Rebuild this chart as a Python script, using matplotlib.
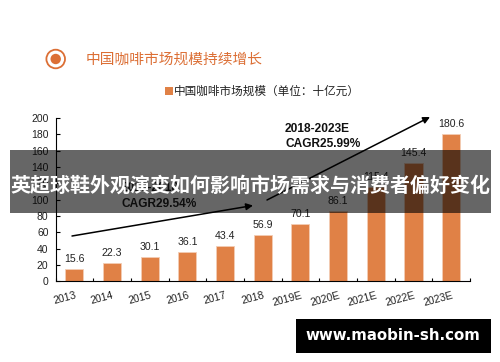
"""China coffee market size bar chart with CAGR arrows and banner overlays."""

import matplotlib
matplotlib.use('Agg')
import matplotlib.pyplot as plt
import matplotlib.patches as patches
from matplotlib.transforms import ScaledTranslation

plt.rcParams['font.family'] = ['Liberation Sans', 'Noto Sans CJK SC', 'DejaVu Sans']

years = ['2013', '2014', '2015', '2016', '2017', '2018',
         '2019E', '2020E', '2021E', '2022E', '2023E']
market_size = [15.6, 22.3, 30.1, 36.1, 43.4, 56.9, 70.1, 86.1, 115.4, 145.4, 180.6]
y_ticks = [0, 20, 40, 60, 80, 100, 120, 140, 160, 180, 200]

ORANGE = '#E08146'
TITLE_ORANGE = '#DC6F35'
W, H = 500, 362

fig = plt.figure(figsize=(W / 100, H / 100), dpi=100, facecolor='white')

# full figure overlay in pixel coords, y pointing down
bg = fig.add_axes([0, 0, 1, 1])
bg.set_xlim(0, W)
bg.set_ylim(H, 0)
bg.axis('off')

# chart axes, placed by pixels
left, right, top, bottom = 55.5, 470, 118, 281.3
ax = fig.add_axes([left / W, 1 - bottom / H, (right - left) / W, (bottom - top) / H])
ax.patch.set_alpha(0)

x = range(len(years))
ax.bar(x, market_size, width=0.48, color=ORANGE, edgecolor='#F3CDB4', linewidth=0.6)
for i, v in zip(x, market_size):
    ax.annotate(f'{v}', (i, v), xytext=(0, 3.5), textcoords='offset points',
                ha='center', va='bottom', fontsize=7.6, color='#222222')

ax.set_xlim(-0.5, len(years) - 0.5)
ax.set_ylim(0, 200)
ax.set_yticks(y_ticks)
ax.set_xticks([i - 0.5 for i in range(len(years) + 1)], minor=False)
ax.set_xticklabels([])
ax.set_xticks(list(x), minor=True)
ax.set_xticklabels(years, minor=True, rotation=15, ha='right', fontsize=7.6, color='#222222')
ax.tick_params(axis='x', which='major', direction='in', length=2.5, width=0.8)
ax.tick_params(axis='x', which='minor', length=0, pad=6.5)
ax.tick_params(axis='y', direction='in', length=3, width=0.8, labelsize=7.5,
               labelcolor='#222222', pad=5)
ax.spines['top'].set_visible(False)
ax.spines['right'].set_visible(False)

# labels sit left of their bars, right end just past the bar centre
nudge = ScaledTranslation(3 / 100, 0, fig.dpi_scale_trans)
for label in ax.get_xticklabels(minor=True):
    label.set_transform(label.get_transform() + nudge)

# heading
bg.add_patch(patches.Circle((55.7, 59), 9.3, fill=False, edgecolor=TITLE_ORANGE, linewidth=1.3))
bg.add_patch(patches.Circle((55.7, 59), 5.2, color=TITLE_ORANGE, linewidth=0))
bg.text(86, 60, '中国咖啡市场规模持续增长', fontsize=10.6, color=TITLE_ORANGE,
        ha='left', va='center')

# legend
bg.add_patch(patches.Rectangle((165, 87), 8, 8, color=ORANGE, linewidth=0))
bg.text(174, 91.5, '中国咖啡市场规模（单位：十亿元）', fontsize=8.35, color='#222222',
        ha='left', va='center')

# CAGR arrows and labels
arrow = dict(arrowstyle='-|>', color='black', lw=1.1, mutation_scale=10, shrinkA=0, shrinkB=0)
bg.annotate('', xy=(253, 205.5), xytext=(72, 236), arrowprops=arrow, zorder=3)
bg.annotate('', xy=(430, 117), xytext=(267, 200), arrowprops=arrow, zorder=3)
bg.text(122, 188, '2013-2018', fontsize=8.6, fontweight='bold', color='#222222', va='center')
bg.text(122, 204, 'CAGR29.54%', fontsize=8.6, fontweight='bold', color='#222222', va='center')
bg.text(285, 128.7, '2018-2023E', fontsize=8.6, fontweight='bold', color='#111111', va='center')
bg.text(285, 144.3, 'CAGR25.99%', fontsize=8.6, fontweight='bold', color='#111111', va='center')

# top layer: grey banner and site tag
top_ax = fig.add_axes([0, 0, 1, 1])
top_ax.set_xlim(0, W)
top_ax.set_ylim(H, 0)
top_ax.axis('off')
top_ax.patch.set_alpha(0)
top_ax.add_patch(patches.Rectangle((10, 150), 481, 63, color='black', alpha=0.6, linewidth=0))
top_ax.text(250, 185.5, '英超球鞋外观演变如何影响市场需求与消费者偏好变化', fontsize=14.4,
            fontweight='bold', color='white', ha='center', va='center')
top_ax.add_patch(patches.Rectangle((296, 319), 195, 34, color='black', linewidth=0))
top_ax.text(393, 336, 'www.maobin-sh.com', fontsize=10.8, fontweight='bold', color='white',
            family='DejaVu Sans', ha='center', va='center')

fig.savefig('out.png', dpi=100)
